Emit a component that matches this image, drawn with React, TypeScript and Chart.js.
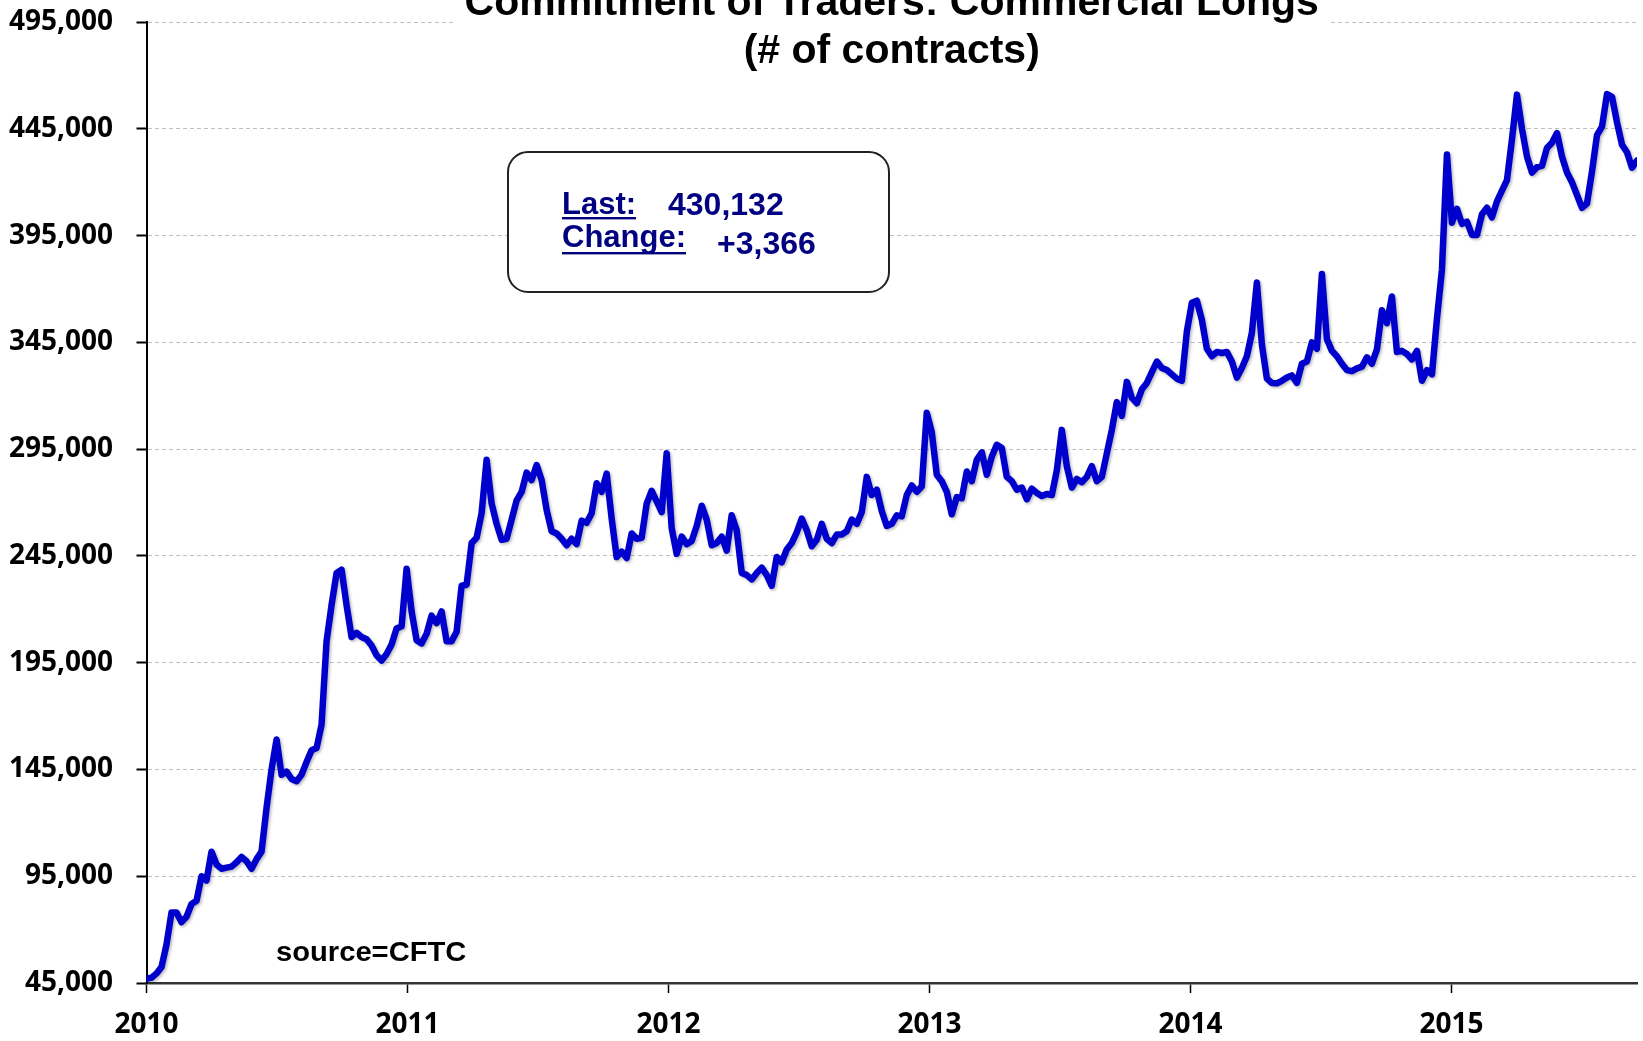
import { useEffect, useRef } from "react";
import { Chart, registerables } from "chart.js";

Chart.register(...registerables);

const TITLE_LINES = ["Commitment of Traders: Commercial Longs", "(# of contracts)"];
const SOURCE_TEXT = "source=CFTC";
const LAST_LABEL = "Last:";
const LAST_VALUE = "430,132";
const CHANGE_LABEL = "Change:";
const CHANGE_VALUE = "+3,366";

const START_YEAR = 2010;
const WEEK_IN_YEARS = 7 / 365.25;
const YEAR_TICKS = [2010, 2011, 2012, 2013, 2014, 2015];
const Y_MIN = 45000;
const Y_MAX = 495000;
const Y_STEP = 50000;

// Weekly commercial longs (# of contracts), one array per calendar year
const values2010 = [
  47000, 47500, 49500, 52500, 63000, 78000, 78000, 73500, 76000, 82000,
  83500, 95000, 93000, 106500, 100500, 98500, 99000, 99500, 101500, 104000,
  102000, 98500, 103000, 106500, 127000, 145000, 159000, 142500, 144000, 140500,
  139500, 142500, 148500, 154000, 155000, 166000, 205000, 222000, 237000, 238500,
  222000, 207000, 209000, 207000, 206000, 203000, 198500, 196000, 199000, 203500,
  211000, 212000,
];
const values2011 = [
  239000, 219000, 205500, 204000, 208500, 217000, 213500, 219000, 205000, 205000,
  209500, 231000, 231500, 251000, 253500, 265000, 290000, 269500, 260000, 252500,
  253000, 262000, 271000, 275000, 284000, 280500, 287500, 280500, 266500, 256500,
  255500, 253000, 250000, 253000, 250500, 261500, 260500, 265000, 279000, 275000,
  283500, 262500, 244500, 247000, 244000, 255500, 253000, 253500, 269500, 275500,
  270500, 265500,
];
const values2012 = [
  293000, 258000, 246000, 254000, 250500, 252000, 259000, 268500, 262000, 250000,
  251000, 254000, 247500, 264000, 257000, 237000, 236000, 234000, 237000, 239500,
  236000, 231000, 244500, 242000, 248000, 251000, 256000, 262500, 257000, 249500,
  252500, 260000, 253000, 251000, 255000, 255000, 256500, 262000, 260000, 265500,
  282000, 273500, 276000, 266000, 259000, 260000, 264000, 263500, 273500, 278000,
  275000, 277500,
];
const values2013 = [
  312000, 303000, 283000, 280000, 275000, 264500, 272500, 272000, 284500, 280000,
  290000, 293500, 283000, 291500, 297000, 295500, 282000, 280000, 276000, 277000,
  271500, 276500, 274500, 273000, 274000, 273500, 285000, 304000, 287000, 277000,
  281000, 279500, 282000, 287000, 280000, 282000, 293000, 304000, 317000, 310500,
  326500, 319000, 316500, 323000, 326000, 331000, 336000, 333000, 332000, 330000,
  328000, 327000,
];
const values2014 = [
  350000, 363500, 364500, 355500, 342000, 338500, 340500, 340000, 340500, 336000,
  328500, 333000, 338500, 349500, 373000, 344000, 328000, 326000, 325800, 327000,
  328500, 329500, 326000, 335000, 336000, 345000, 342000, 377000, 346500, 341000,
  338500, 335000, 332000, 331500, 332800, 333600, 338000, 335000, 341700, 360000,
  354000, 366500, 340500, 341000, 339500, 337000, 341000, 327000, 332000, 330000,
  356000, 379000,
];
const values2015 = [
  433000, 401000, 407500, 400500, 401500, 395300, 395300, 405000, 408000, 403500,
  411000, 416000, 421000, 440000, 461000, 445000, 432000, 424500, 427000, 427600,
  436000, 438500, 443000, 432000, 424500, 420000, 414000, 408000, 410000, 425000,
  442000, 446000, 461300, 460000, 448000, 437500, 434000, 426766, 430132,
];

const allValues = [
  ...values2010,
  ...values2011,
  ...values2012,
  ...values2013,
  ...values2014,
  ...values2015,
];

const TICK_FONT = { family: '"Open Sans", "Noto Sans", sans-serif', size: 28, weight: "bold" as const };

const lineShadow = {
  id: "lineShadow",
  beforeDatasetsDraw(chart: any) {
    const c = chart.ctx;
    c.save();
    c.shadowColor = "rgba(0,0,0,0.28)";
    c.shadowBlur = 3;
    c.shadowOffsetX = 1.5;
    c.shadowOffsetY = 1.5;
  },
  afterDatasetsDraw(chart: any) {
    chart.ctx.restore();
  },
};

const overlay = {
  id: "overlay",
  afterDraw(chart: any) {
    const ctx = chart.ctx as CanvasRenderingContext2D;
    const area = chart.chartArea;
    const cx = (area.left + area.right) / 2;
    ctx.save();

    // Title with white backing
    ctx.font = 'bold 41px "Liberation Sans", Arial, sans-serif';
    const tw = ctx.measureText(TITLE_LINES[0]).width;
    ctx.fillStyle = "#ffffff";
    ctx.fillRect(cx - tw / 2 - 9, 0, tw + 18, 78);
    ctx.fillStyle = "#000000";
    ctx.textAlign = "center";
    ctx.textBaseline = "alphabetic";
    ctx.fillText(TITLE_LINES[0], cx, 15);
    ctx.fillText(TITLE_LINES[1], cx, 63);

    // Info box
    ctx.beginPath();
    (ctx as any).roundRect(508, 152, 381, 140, 20);
    ctx.fillStyle = "#ffffff";
    ctx.fill();
    ctx.lineWidth = 2;
    ctx.strokeStyle = "#222222";
    ctx.stroke();

    ctx.fillStyle = "#000080";
    ctx.textAlign = "left";
    const lx = 562;
    ctx.font = 'bold 31px "Liberation Sans", Arial, sans-serif';
    ctx.fillText(LAST_LABEL, lx, 214);
    const lw = ctx.measureText(LAST_LABEL).width;
    ctx.fillRect(lx, 217, lw, 2.4);
    ctx.fillText(CHANGE_LABEL, lx, 247);
    const cw = ctx.measureText(CHANGE_LABEL).width;
    ctx.fillRect(lx, 252, cw, 2.4);
    ctx.font = 'bold 32px "Liberation Sans", Arial, sans-serif';
    ctx.fillText(LAST_VALUE, 668, 215);
    ctx.fillText(CHANGE_VALUE, 717, 254);

    // Source
    ctx.fillStyle = "#000000";
    ctx.font = 'bold 27px "Liberation Sans", Arial, sans-serif';
    ctx.translate(276, 961);
    ctx.scale(1.08, 1);
    ctx.fillText(SOURCE_TEXT, 0, 0);

    ctx.restore();
  },
};

export default function App() {
  const ref = useRef<HTMLCanvasElement | null>(null);

  useEffect(() => {
    document.body.style.margin = "0";
    const canvas = ref.current;
    if (!canvas) return;
    const points = allValues.map((v, i) => ({ x: START_YEAR + i * WEEK_IN_YEARS, y: v }));
    const lastX = points[points.length - 1].x;

    const chart = new Chart(canvas, {
      type: "line",
      data: {
        datasets: [
          {
            data: points,
            borderColor: "#0000CC",
            borderWidth: 6.5,
            pointRadius: 0,
            tension: 0,
            fill: false,
            borderJoinStyle: "round",
            borderCapStyle: "round",
          },
        ],
      },
      options: {
        animation: false,
        responsive: false,
        maintainAspectRatio: false,
        layout: { padding: { top: 22, right: 6, left: 0, bottom: 0 } },
        plugins: {
          legend: { display: false },
          tooltip: { enabled: false },
          title: { display: false },
        },
        scales: {
          x: {
            type: "linear",
            min: START_YEAR,
            max: lastX,
            afterBuildTicks: (s: any) => {
              s.ticks = YEAR_TICKS.map((v) => ({ value: v }));
            },
            afterFit: (s: any) => {
              s.height = 58;
              s.paddingLeft = 0;
              s.paddingRight = 0;
            },
            grid: {
              drawOnChartArea: false,
              drawTicks: true,
              tickLength: 10,
              tickColor: "#000000",
              tickWidth: 1.5,
            },
            border: { display: true, color: "#333333", width: 2.5 },
            ticks: {
              font: TICK_FONT,
              color: "#000000",
              padding: 15,
              maxRotation: 0,
              autoSkip: false,
              callback: (v: any) => String(v),
            },
          },
          y: {
            type: "linear",
            min: Y_MIN,
            max: Y_MAX,
            afterFit: (s: any) => {
              s.width = 146.5;
              s.paddingTop = 0;
              s.paddingBottom = 0;
            },
            ticks: {
              stepSize: Y_STEP,
              font: TICK_FONT,
              color: "#000000",
              padding: 23.5,
              callback: (v: any) => Number(v).toLocaleString("en-US"),
            },
            grid: {
              color: "#c0c0c0",
              lineWidth: 1,
              tickColor: "#000000",
              tickWidth: 2,
              tickLength: 10,
              tickBorderDash: [],
            },
            border: { display: true, color: "#000000", width: 2, dash: [4, 3] },
          },
        },
      },
      plugins: [lineShadow, overlay],
    } as any);

    return () => chart.destroy();
  }, []);

  return (
    <div style={{ width: 1643, height: 1041 }}>
      <canvas ref={ref} width={1643} height={1041} style={{ display: "block" }} />
    </div>
  );
}
